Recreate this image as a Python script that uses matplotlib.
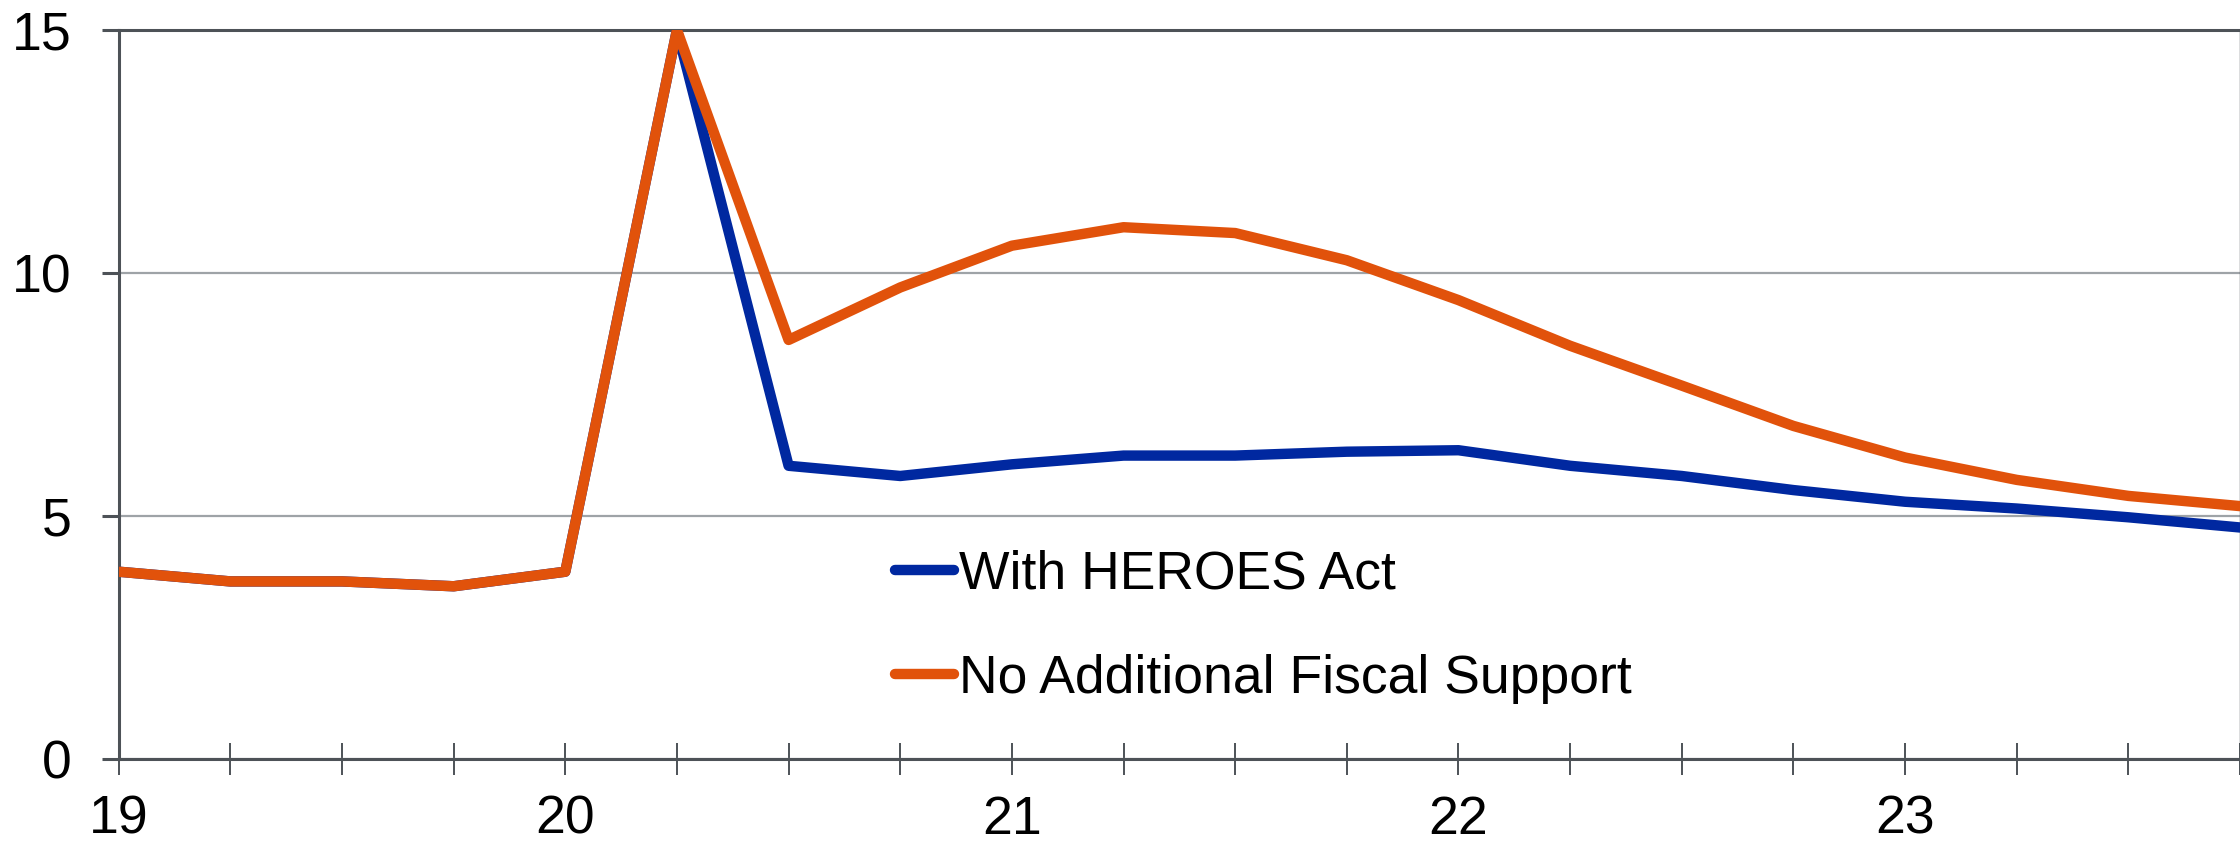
import matplotlib
matplotlib.use('Agg')
import matplotlib.pyplot as plt

plt.rcParams['font.family'] = ['Liberation Sans', 'DejaVu Sans']

# quarterly points, 2019Q1 .. 2023Q4 (x in two-digit years)
quarters = [19.0, 19.25, 19.5, 19.75, 20.0, 20.25, 20.5, 20.75, 21.0, 21.25,
            21.5, 21.75, 22.0, 22.25, 22.5, 22.75, 23.0, 23.25, 23.5, 23.75]
heroes = [3.85, 3.65, 3.65, 3.55, 3.85, 15.0, 6.03, 5.82, 6.06, 6.24,
          6.24, 6.32, 6.35, 6.03, 5.82, 5.53, 5.29, 5.15, 4.97, 4.76]
no_support = [3.85, 3.65, 3.65, 3.55, 3.85, 15.0, 8.62, 9.70, 10.56, 10.94,
              10.82, 10.26, 9.44, 8.50, 7.68, 6.85, 6.20, 5.74, 5.41, 5.20]
year_ticks = [19, 20, 21, 22, 23]
y_ticks = [0, 5, 10, 15]

blue = '#0028a0'
orange = '#e1520b'
dark = '#4d5257'

fig = plt.figure(figsize=(22.4, 8.44), dpi=100)
ax = fig.add_axes([0.053, 0.101, 0.947, 0.8635])

ax.plot(quarters, heroes, color=blue, lw=7.5, zorder=3,
        solid_capstyle='round', label='With HEROES Act')
ax.plot(quarters, no_support, color=orange, lw=7.5, zorder=4,
        solid_capstyle='round', label='No Additional Fiscal Support')

ax.set_xlim(19, 23.75)
ax.set_ylim(0, 15)

ax.set_xticks(year_ticks)
ax.set_xticklabels([str(y) for y in year_ticks])
ax.set_xticks(quarters, minor=True)
ax.set_yticks(y_ticks)

ax.tick_params(axis='x', which='both', direction='inout', length=23,
               width=1.4, color=dark, pad=14.5, labelsize=38.5)
ax.tick_params(axis='y', direction='out', length=12, width=2.2,
               color=dark, pad=22, labelsize=38.5)

ax.yaxis.grid(True, color='#9ea3a7', lw=1.6)
ax.set_axisbelow(True)

for side in ['left', 'bottom', 'top']:
    ax.spines[side].set_color(dark)
    ax.spines[side].set_linewidth(2.2)
ax.spines['right'].set_color(dark)
ax.spines['right'].set_linewidth(1.0)

leg = ax.legend(loc='upper left', bbox_to_anchor=(0.366, 0.287), frameon=False,
                fontsize=38.5, handlelength=1.1, handletextpad=0.1,
                labelspacing=1.02, borderpad=0, borderaxespad=0)

fig.savefig('out.png', dpi=100)
